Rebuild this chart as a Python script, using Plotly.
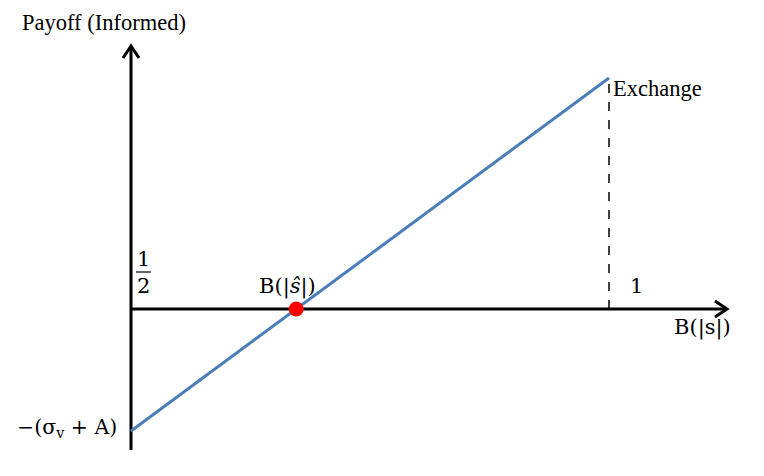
import plotly.graph_objects as go

# ---- data (payoff of informed trader vs B(|s|)) ----
b_values = [0.0, 1.0]              # B(|s|) from 0 to 1 (Exchange)
payoff_values = [-1.0, 1.893]      # payoff: -(sigma_v + A) at 0, rising to Exchange
breakeven_b = [0.3456]             # B(|s_hat|)
breakeven_payoff = [0.0]

# ---- pixel <-> data mapping for layout helpers (screen pixels) ----
W, H = 764, 476
OFF = 8                     # page body margin offset
X0_PX, X1_PX = 131, 609     # B=0 and B=1
Y0_PX, YM1_PX = 309, 431    # payoff 0 and -1
sx = (X1_PX - X0_PX)
sy = (YM1_PX - Y0_PX)
def X(px): return (px - X0_PX) / sx
def Y(py): return (Y0_PX - py) / sy

fig = go.Figure()

ax_col = "black"
fig.add_trace(go.Scatter(x=[0, 0], y=[Y(450), Y(46)], mode="lines",
                         line=dict(color=ax_col, width=3), hoverinfo="skip"))
fig.add_trace(go.Scatter(x=[0, X(727)], y=[0, 0], mode="lines",
                         line=dict(color=ax_col, width=3), hoverinfo="skip"))
fig.add_trace(go.Scatter(x=[X(123), 0, X(139)], y=[Y(58), Y(46), Y(58)], mode="lines",
                         line=dict(color=ax_col, width=3), hoverinfo="skip"))
fig.add_trace(go.Scatter(x=[X(715), X(727), X(715)], y=[Y(301), 0, Y(317)], mode="lines",
                         line=dict(color=ax_col, width=3), hoverinfo="skip"))

fig.add_trace(go.Scatter(x=[b_values[-1], b_values[-1]], y=[0, payoff_values[-1]], mode="lines",
                         line=dict(color="black", width=1.5, dash="dash"), hoverinfo="skip"))

fig.add_trace(go.Scatter(x=b_values, y=payoff_values, mode="lines",
                         line=dict(color="#4A7EBB", width=3), hoverinfo="skip"))

fig.add_trace(go.Scatter(x=breakeven_b, y=breakeven_payoff, mode="markers",
                         marker=dict(color="#FF0000", size=15), hoverinfo="skip"))

serif = "Liberation Serif, Times New Roman, serif"
math = "DejaVu Serif, serif"
ann = []
def A(text, px, py, size=21, font=serif, xanchor="center"):
    ann.append(dict(text=text, x=X(px), y=Y(py), xref="x", yref="y", showarrow=False,
                    xanchor=xanchor, yanchor="middle",
                    font=dict(family=font, size=size, color="black")))

A("Payoff (Informed)", 104, 22, size=22.5)
A("Exchange", 611, 88, size=22.5, xanchor="left")
A("1", 143, 259, size=21, font=math)
A("2", 143, 286, size=21, font=math)
A("B(|<i>ŝ</i>|)", 287, 286, size=21, font=math)
A("1", 636, 286, size=21, font=math)
A("B(|s|)", 702, 327, size=21, font=math)
A("−(σ<sub>v</sub> + A)", 119, 428, size=20.5, font=math, xanchor="right")

fig.update_layout(
    width=W, height=H,
    margin=dict(l=0, r=0, t=0, b=0),
    paper_bgcolor="white", plot_bgcolor="white",
    showlegend=False,
    annotations=ann,
    shapes=[dict(type="line", xref="x", yref="y", x0=X(136), x1=X(151), y0=Y(272), y1=Y(272),
                 line=dict(color="black", width=1.2))],
    xaxis=dict(range=[X(OFF), X(OFF + W)], visible=False, fixedrange=True),
    yaxis=dict(range=[Y(OFF + H), Y(OFF)], visible=False, fixedrange=True),
)

fig.write_html("out.html")
